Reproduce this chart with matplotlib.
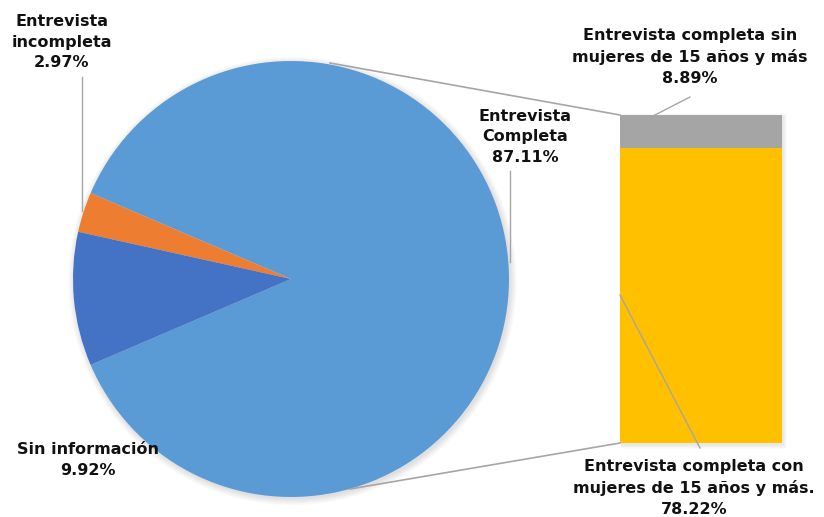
import numpy as np
import matplotlib.pyplot as plt
from matplotlib.patches import Circle, Rectangle

# datos del gráfico (porcentajes)
pie_labels = ['Entrevista\nCompleta', 'Entrevista\nincompleta', 'Sin información']
pie_values = [87.11, 2.97, 9.92]
pie_colors = ['#5B9BD5', '#ED7D31', '#4472C4']

bar_labels = ['Entrevista completa con\nmujeres de 15 años y más.',
              'Entrevista completa sin\nmujeres de 15 años y más']
bar_values = [78.22, 8.89]
bar_colors = ['#FFC000', '#A5A5A5']

W, H = 824, 517


def Y(y):
    # coordenada en pixeles (desde arriba) -> eje
    return H - y


plt.rcParams['font.family'] = ['DejaVu Sans']

fig = plt.figure(figsize=(W / 100, H / 100), dpi=100)
ax = fig.add_axes([0, 0, 1, 1])

cx, cy, R = 291, Y(279), 218

# sombra suave
for i in range(8):
    ax.add_patch(Circle((cx + 1.5, cy - 2), R + i * 0.9, color='black',
                        alpha=0.015, lw=0, zorder=1))

# pastel: la porción grande centrada a la derecha
start = -pie_values[0] / 100 * 360 / 2
ax.pie(pie_values, colors=pie_colors, startangle=start, counterclock=True,
       center=(cx, cy), radius=R, frame=True,
       wedgeprops=dict(linewidth=0, zorder=2))
ax.set_xlim(0, W)
ax.set_ylim(0, H)
ax.set_aspect('equal')
ax.axis('off')

# barra apilada
bx0, bw = 620, 162
b_bottom, b_top = 443, 115
scale = (b_bottom - b_top) / sum(bar_values)
for i in range(6):
    ax.add_patch(Rectangle((bx0 + 1, Y(b_bottom) - 2 - i * 0.8), bw + i * 0.8,
                           (b_bottom - b_top) + i * 1.6, color='black',
                           alpha=0.015, lw=0, zorder=1))
bottom = Y(b_bottom)
for v, c in zip(bar_values, bar_colors):
    ax.bar(bx0, v * scale, width=bw, bottom=bottom, color=c, align='edge',
           linewidth=0, zorder=2)
    bottom += v * scale

# líneas de conexión
line_c = '#A6A6A6'
ax.plot([330, bx0], [Y(63), Y(b_top)], color=line_c, lw=1.2, zorder=3)
ax.plot([350, bx0], [Y(489), Y(b_bottom)], color=line_c, lw=1.2, zorder=3)

# líneas guía de etiquetas
ax.plot([510, 510], [Y(171), Y(262)], color=line_c, lw=1, zorder=3)
ax.plot([82, 82], [Y(77), Y(211)], color=line_c, lw=1, zorder=3)
ax.plot([653, 690], [Y(116), Y(97)], color=line_c, lw=1, zorder=3)
ax.plot([620, 700], [Y(295), Y(448)], color=line_c, lw=1, zorder=3)

# etiquetas
tk = dict(fontsize=11.5, fontweight='bold', ha='center', va='center',
          linespacing=1.48, color='#111111', zorder=4)
ax.text(525, Y(137), f'{pie_labels[0]}\n{pie_values[0]:.2f}%', **tk)
ax.text(62, Y(42), f'{pie_labels[1]}\n{pie_values[1]:.2f}%', **tk)
ax.text(88, Y(460), f'{pie_labels[2]}\n{pie_values[2]:.2f}%', **tk)
ax.text(690, Y(57), f'{bar_labels[1]}\n{bar_values[1]:.2f}%', **tk)
ax.text(694, Y(488), f'{bar_labels[0]}\n{bar_values[0]:.2f}%', **tk)

fig.savefig('out.png', dpi=100)
